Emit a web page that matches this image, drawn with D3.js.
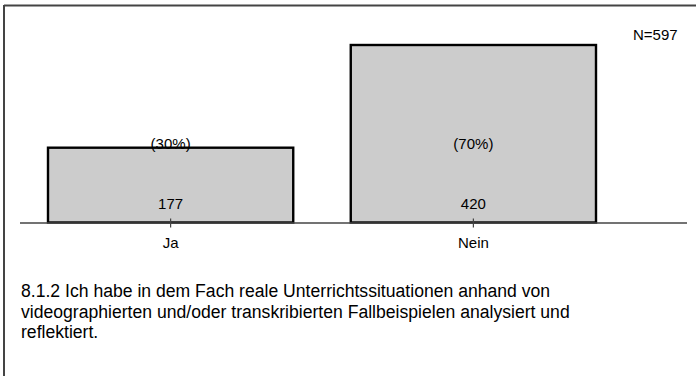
<!DOCTYPE html>
<html>
<head>
<meta charset="utf-8">
<script src="https://cdn.jsdelivr.net/npm/d3@7"></script>
<style>
  html, body { margin: 0; padding: 0; background: #fff; }
  svg { display: block; font-family: "Liberation Sans", Arial, sans-serif; }
</style>
</head>
<body>
<svg id="chart" width="696" height="376"></svg>
<script>
// Answer categories and response counts
const categories = ["Ja", "Nein"];
const counts = [177, 420];
const percentLabels = ["(30%)", "(70%)"];
const totalLabel = "N=597";
const captionLines = [
  "8.1.2 Ich habe in dem Fach reale Unterrichtssituationen anhand von",
  "videographierten und/oder transkribierten Fallbeispielen analysiert und",
  "reflektiert."
];

const svg = d3.select("#chart");
const W = 696, H = 376;
const baseY = 222.5;

// Frame (top and left edges)
svg.append("line").attr("x1", 4).attr("x2", W).attr("y1", 5.5).attr("y2", 5.5)
  .attr("stroke", "#444").attr("stroke-width", 2);
svg.append("line").attr("x1", 4).attr("x2", 4).attr("y1", 5).attr("y2", H)
  .attr("stroke", "#444").attr("stroke-width", 2);

const x = d3.scaleBand().domain(categories).range([48, 596]).paddingInner(0.19).paddingOuter(0);
const y = d3.scaleLinear().domain([0, 420]).range([baseY, 45]);

// Bars
svg.append("g").selectAll("rect")
  .data(categories)
  .join("rect")
  .attr("x", d => x(d))
  .attr("y", (d, i) => y(counts[i]))
  .attr("width", x.bandwidth())
  .attr("height", (d, i) => baseY - y(counts[i]))
  .attr("fill", "#cccccc")
  .attr("stroke", "#000")
  .attr("stroke-width", 2.4);

// Baseline axis
svg.append("line").attr("x1", 20).attr("x2", 687).attr("y1", baseY + 0.5).attr("y2", baseY + 0.5)
  .attr("stroke", "#444").attr("stroke-width", 1.6);

const axis = d3.axisBottom(x).tickSize(5).tickSizeOuter(0).tickPadding(10);
const gAxis = svg.append("g").attr("transform", `translate(0,${baseY})`).call(axis);
gAxis.select(".domain").remove();
gAxis.selectAll(".tick line").attr("stroke", "#444").attr("y1", -4).attr("stroke-width", 1.2);
gAxis.selectAll(".tick text")
  .attr("font-family", "Liberation Sans, Arial, sans-serif")
  .attr("font-size", 15).attr("fill", "#000").attr("dy", "0.71em");

// Count labels inside the bars
svg.append("g").selectAll("text")
  .data(categories)
  .join("text")
  .attr("x", d => x(d) + x.bandwidth() / 2)
  .attr("y", baseY - 13.5)
  .attr("text-anchor", "middle")
  .attr("font-size", 15)
  .text((d, i) => counts[i]);

// Percentage labels
svg.append("g").selectAll("text")
  .data(categories)
  .join("text")
  .attr("x", d => x(d) + x.bandwidth() / 2)
  .attr("y", 149)
  .attr("text-anchor", "middle")
  .attr("font-size", 15)
  .text((d, i) => percentLabels[i]);

// Sample size
svg.append("text").attr("x", 633).attr("y", 40).attr("font-size", 15).text(totalLabel);

// Item wording
svg.append("g").selectAll("text")
  .data(captionLines)
  .join("text")
  .attr("x", 21)
  .attr("y", (d, i) => 297 + i * 20.5)
  .attr("font-size", 17.6)
  .text(d => d);
</script>
</body>
</html>
